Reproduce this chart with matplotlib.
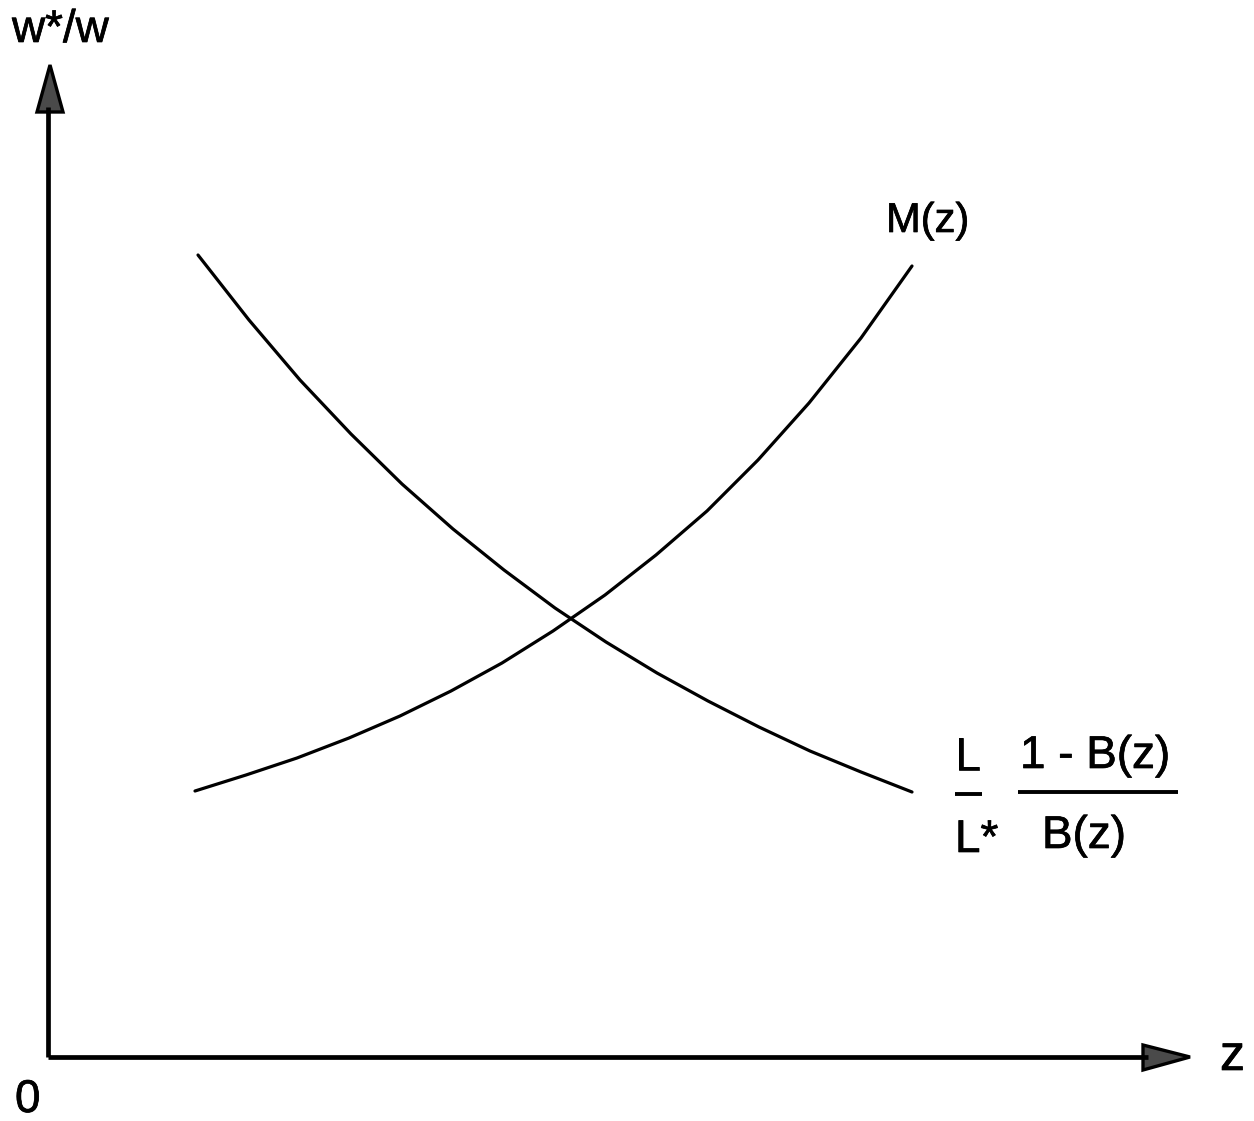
import matplotlib
matplotlib.use("Agg")
import matplotlib.pyplot as plt
from matplotlib.patches import Polygon
import matplotlib.patheffects as pe

# Curve samples (z, w*/w) in chart units
m_z = [1.47, 1.98, 2.49, 3.01, 3.52, 4.03, 4.54, 5.05, 5.57, 6.08, 6.59, 7.10, 7.61, 8.13, 8.64]
m_y = [2.66, 2.82, 2.99, 3.19, 3.41, 3.66, 3.94, 4.26, 4.62, 5.02, 5.46, 5.97, 6.54, 7.19, 7.91]

b_z = [1.50, 2.01, 2.52, 3.03, 3.54, 4.05, 4.56, 5.07, 5.58, 6.09, 6.60, 7.11, 7.62, 8.13, 8.64]
b_y = [8.02, 7.37, 6.77, 6.23, 5.73, 5.28, 4.87, 4.49, 4.15, 3.84, 3.56, 3.30, 3.06, 2.85, 2.65]

x_label = "z"
y_label = "w*/w"
origin_label = "0"
m_label = "M(z)"
b_num = "1 - B(z)"
b_den = "B(z)"
l_num = "L"
l_den = "L*"

plt.rcParams["font.family"] = ["Liberation Sans", "DejaVu Sans"]
ink = [pe.withStroke(linewidth=0.5, foreground="black")]

fig = plt.figure(figsize=(12.54, 11.21), dpi=100)
ax = fig.add_axes([0, 0, 1, 1])
ax.set_xlim(-0.48, 12.06)
ax.set_ylim(-0.64, 10.57)
ax.axis("off")

# Axes with filled arrowheads
ax.plot([0, 0], [0, 9.5], color="black", lw=3.4, solid_capstyle="butt")
ax.plot([0, 11.0], [0, 0], color="black", lw=3.4, solid_capstyle="butt")
ax.add_patch(Polygon([[0.02, 9.92], [-0.11, 9.45], [0.15, 9.45]], closed=True,
                     facecolor="#4a4a4a", edgecolor="black", lw=2.4, joinstyle="miter"))
ax.add_patch(Polygon([[11.42, 0.0], [10.95, 0.12], [10.95, -0.13]], closed=True,
                     facecolor="#4a4a4a", edgecolor="black", lw=2.4, joinstyle="miter"))

# Curves
ax.plot(m_z, m_y, color="black", lw=2.3, solid_joinstyle="round", solid_capstyle="round")
ax.plot(b_z, b_y, color="black", lw=2.3, solid_joinstyle="round", solid_capstyle="round")

# Labels
ax.text(-0.36, 10.15, y_label, fontsize=33, ha="left", va="baseline", path_effects=ink)
ax.text(11.72, -0.13, x_label, fontsize=36, ha="left", va="baseline", path_effects=ink)
ax.text(-0.33, -0.55, origin_label, fontsize=33, ha="left", va="baseline", path_effects=ink)
ax.text(8.38, 8.25, m_label, fontsize=30, ha="left", va="baseline", path_effects=ink)

# (L / L*) * (1 - B(z)) / B(z)
ax.text(9.07, 2.87, l_num, fontsize=33, ha="left", va="baseline", path_effects=ink)
ax.plot([9.07, 9.34], [2.63, 2.63], color="black", lw=2.8, solid_capstyle="butt")
ax.text(9.07, 2.05, l_den, fontsize=33, ha="left", va="baseline", path_effects=ink)
ax.text(9.72, 2.89, b_num, fontsize=33, ha="left", va="baseline", path_effects=ink)
ax.plot([9.70, 11.30], [2.65, 2.65], color="black", lw=2.8, solid_capstyle="butt")
ax.text(9.94, 2.09, b_den, fontsize=33, ha="left", va="baseline", path_effects=ink)

fig.savefig("out.png", dpi=100, facecolor="white")
